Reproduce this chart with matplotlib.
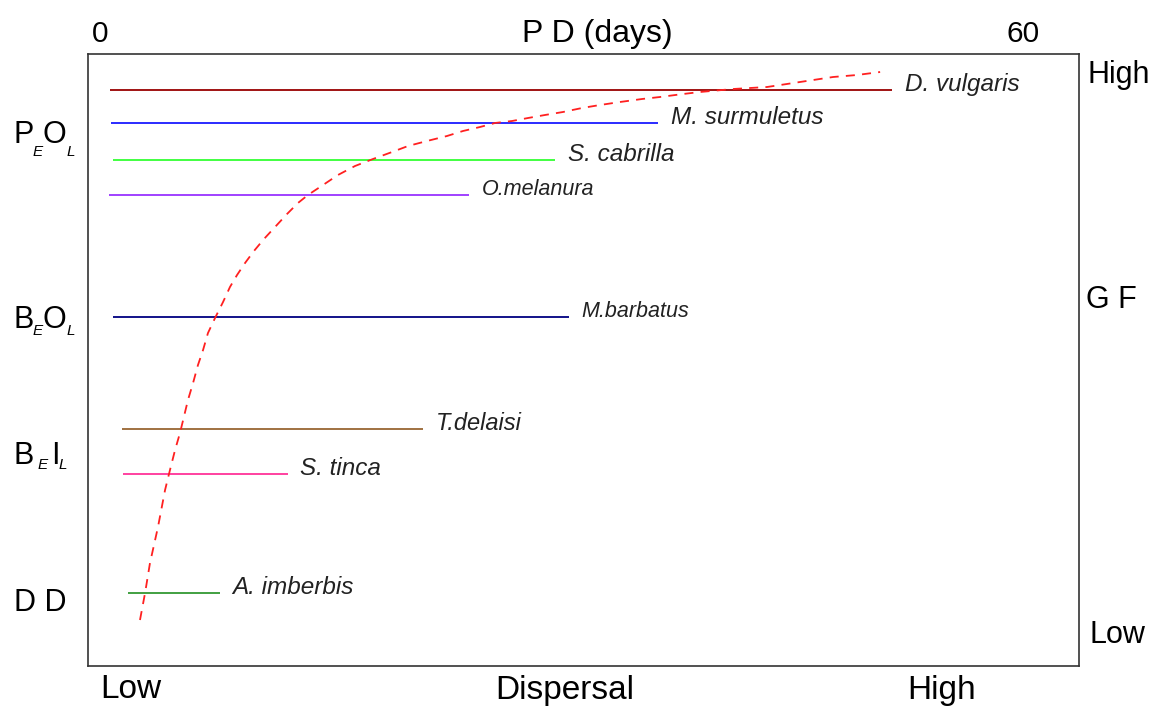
import matplotlib
matplotlib.use('Agg')
import matplotlib.pyplot as plt

plt.rcParams['font.family'] = ['Liberation Sans', 'DejaVu Sans']

W, H = 1162, 713

# 物种浮游期 (天) 范围及其在纵轴上的位置
species = ['D. vulgaris', 'M. surmuletus', 'S. cabrilla', 'O.melanura',
           'M.barbatus', 'T.delaisi', 'S. tinca', 'A. imberbis']
pd_start = [0.65, 0.7, 0.85, 0.6, 0.85, 1.4, 1.5, 1.8]
pd_end = [51.5, 36.3, 29.6, 24.0, 30.5, 21.0, 12.2, 7.8]
level = [576, 543, 506, 471, 349, 237, 192, 73]
colors = ['#990000', '#1a1aff', '#33ff33', '#9933ff',
          '#000080', '#996633', '#ff3399', '#339933']
label_size = [17.5, 17.5, 17.5, 15.5, 15.5, 17, 17.5, 17.5]

# 扩散趋势曲线
curve_x = [2.6, 2.93, 3.25, 3.77, 4.23, 4.55, 4.88, 5.2, 5.72, 6.05, 6.37,
           6.7, 7.02, 7.48, 8.0, 8.45, 8.91, 9.43, 10.01, 10.66, 11.38,
           12.16, 12.87, 13.52, 14.5, 15.47, 16.58, 17.75, 18.99, 20.03,
           21.26, 22.56, 23.6, 24.71, 25.68, 26.79, 27.83, 28.93, 30.1,
           31.34, 32.51, 33.81, 35.24, 36.41, 37.91, 39.01, 41.16, 43.37,
           45.51, 47.66, 49.22, 50.72]
curve_y = [46, 73, 103, 139, 176, 196, 216, 233, 266, 283, 301,
           316, 333, 348, 364, 379, 391, 403, 415, 427, 439,
           452, 463, 471, 481, 491, 500, 507, 514, 520,
           525, 530, 535, 539, 543, 545, 548, 551, 554,
           558, 561, 564, 567, 569, 572, 574, 577, 579,
           584, 589, 591, 594]

fig = plt.figure(figsize=(W / 100, H / 100), dpi=100)
ax = fig.add_axes([88 / W, 47 / H, 991 / W, 612 / H])
ax.set_xlim(-0.78, 63.65)
ax.set_ylim(0, 612)

for name, x0, x1, y, c, fs in zip(species, pd_start, pd_end, level,
                                  colors, label_size):
    ax.plot([x0, x1], [y, y], color=c, lw=1.3, solid_capstyle='butt')
    ax.annotate(name, (x1, y), xytext=(9, 4), textcoords='offset points',
                fontsize=fs, style='italic', color='#222222',
                va='center', ha='left')

ax.plot(curve_x, curve_y, color='#ff2020', lw=1.3, ls=(0, (5, 4)))

# 上方横轴: 浮游期
ax.xaxis.tick_top()
ax.set_xticks([0, 60])
ax.set_xticklabels(['0', '60'], fontsize=21.5)
ax.tick_params(axis='x', length=0, pad=4)
ax.set_yticks([])
ax.text(0.5136, 1.0196, 'P D (days)', transform=ax.transAxes,
        fontsize=23, ha='center', va='baseline')

for s in ax.spines.values():
    s.set_color('#333333')
    s.set_linewidth(1.2)


def px_text(x, y, s, size, **kw):
    fig.text(x / W, 1 - y / H, s, fontsize=size, **kw)


# 右侧: 生长形态
px_text(1088, 75, 'High', 22, va='center')
px_text(1086, 300, 'G F', 22, va='center')
px_text(1089, 635, 'Low', 22, va='center')

# 下方: 扩散能力
px_text(100, 690, 'Low', 24, va='center')
px_text(565, 690, 'Dispersal', 24, va='center', ha='center')
px_text(907, 690, 'High', 24, va='center')

# 左侧: 生活史类型 (带下标)
main_fs, sub_fs = 22, 11
left_labels = [
    [('P', 13, 143, False), ('E', 33, 156, True),
     ('O', 43, 143, False), ('L', 67, 156, True)],
    [('B', 13, 328, False), ('E', 33, 335, True),
     ('O', 43, 328, False), ('L', 67, 335, True)],
    [('B', 14, 464, False), ('E', 38, 469, True),
     ('I', 51, 464, False), ('L', 59, 469, True)],
    [('D D', 14, 611, False)],
]
for parts in left_labels:
    for s, x, y, is_sub in parts:
        if is_sub:
            px_text(x, y, s, sub_fs, style='italic', va='baseline')
        else:
            px_text(x, y, s, main_fs, va='baseline')

fig.savefig('out.png', dpi=100, facecolor='white')
